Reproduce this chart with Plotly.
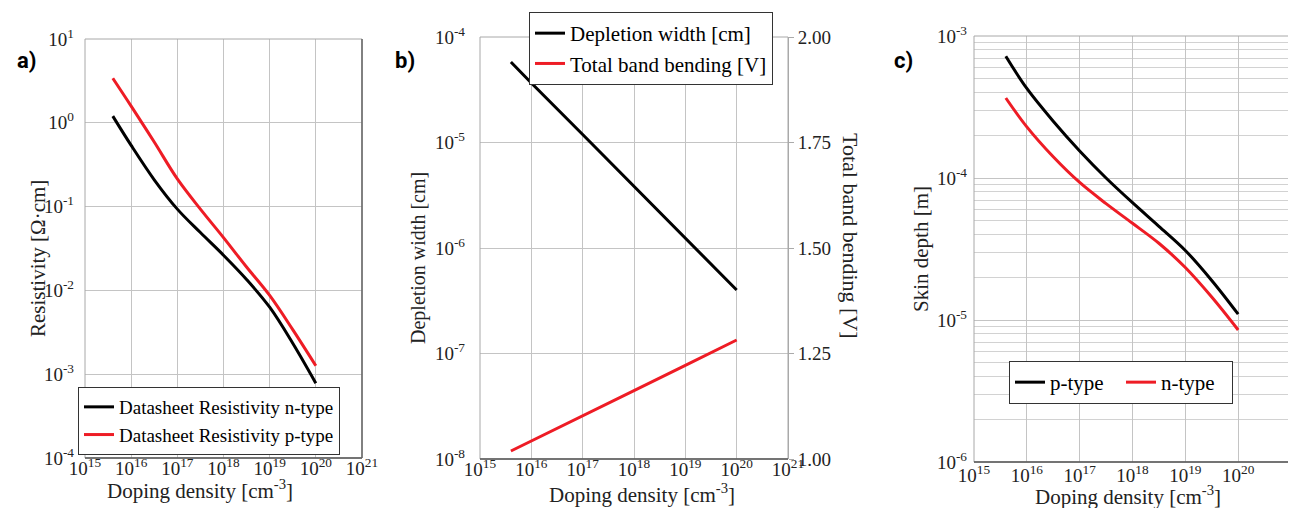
import plotly.graph_objects as go

# ---------------- data ----------------
# Panel a: resistivity vs doping density
doping_a = [4e15, 1e16, 3.16e16, 1e17, 3.16e17, 1e18, 3.16e18, 1e19, 3.16e19, 1e20]
rho_n = [1.2, 0.537, 0.209, 0.0933, 0.049, 0.0263, 0.0135, 0.0063, 0.00234, 0.00078]
rho_p = [3.4, 1.58, 0.589, 0.214, 0.0933, 0.0427, 0.019, 0.0087, 0.0034, 0.00126]

# Panel b: depletion width and total band bending
doping_b = [4e15, 1e16, 1e17, 1e18, 1e19, 1e20]
depletion_cm = [5.8e-5, 3.66e-5, 1.19e-5, 3.84e-6, 1.24e-6, 4.0e-7]
band_bending_v = [1.019, 1.043, 1.103, 1.162, 1.222, 1.282]

# Panel c: skin depth
doping_c = [4e15, 1e16, 3.16e16, 1e17, 3.16e17, 1e18, 3.16e18, 1e19, 3.16e19, 1e20]
skin_p = [7.2e-4, 4.27e-4, 2.51e-4, 1.55e-4, 1.0e-4, 6.7e-5, 4.57e-5, 3.09e-5, 1.9e-5, 1.1e-5]
skin_n = [3.66e-4, 2.29e-4, 1.41e-4, 9.3e-5, 6.6e-5, 4.8e-5, 3.47e-5, 2.34e-5, 1.45e-5, 8.5e-6]

x_exps = [15, 16, 17, 18, 19, 20, 21]
ya_exps = [1, 0, -1, -2, -3, -4]
yb_exps = [-4, -5, -6, -7, -8]
yc_exps = [-3, -4, -5, -6]
yb2_ticks = [1.00, 1.25, 1.50, 1.75, 2.00]

# ---------------- style ----------------
W, H = 1296, 508
SERIF = "Liberation Serif, Times New Roman, serif"
RED = "#ee1c25"
GRID = "#c4c4c4"
TICKFONT = dict(family=SERIF, size=19, color="#222")

def fx(px):
    return px / W

def fy(py):
    return 1 - py / H

def pow_text(e):
    return "10<sup>%d</sup>" % e

def xaxis_cfg(x0, x1, anchor, standoff):
    return dict(
        type="log", range=[15, 21], domain=[fx(x0), fx(x1)], anchor=anchor,
        tickvals=[10.0 ** e for e in x_exps], ticktext=[pow_text(e) for e in x_exps],
        showgrid=True, gridcolor=GRID, gridwidth=1, zeroline=False, automargin=False,
        showline=False, ticks="", tickfont=TICKFONT, ticklabelstandoff=standoff,
    )

def ylog_cfg(y_top, y_bot, exps, anchor, lo, hi, standoff):
    return dict(
        type="log", range=[lo, hi], domain=[fy(y_bot), fy(y_top)], anchor=anchor,
        tickvals=[10.0 ** e for e in exps], ticktext=[pow_text(e) for e in exps],
        showgrid=True, gridcolor=GRID, gridwidth=1, zeroline=False, automargin=False,
        showline=False, ticks="", tickfont=TICKFONT, ticklabelstandoff=standoff,
    )

fig = go.Figure()

# panel a
fig.add_trace(go.Scatter(x=doping_a, y=rho_n, mode="lines", name="Datasheet Resistivity n-type",
                         line=dict(color="black", width=3, shape="spline"),
                         xaxis="x", yaxis="y", legend="legend"))
fig.add_trace(go.Scatter(x=doping_a, y=rho_p, mode="lines", name="Datasheet Resistivity p-type",
                         line=dict(color=RED, width=3, shape="spline"),
                         xaxis="x", yaxis="y", legend="legend"))
# panel b
fig.add_trace(go.Scatter(x=doping_b, y=depletion_cm, mode="lines", name="Depletion width [cm]",
                         line=dict(color="black", width=3),
                         xaxis="x2", yaxis="y2", legend="legend2"))
fig.add_trace(go.Scatter(x=doping_b, y=band_bending_v, mode="lines", name="Total band bending [V]",
                         line=dict(color=RED, width=3),
                         xaxis="x2", yaxis="y3", legend="legend2"))
# panel c
fig.add_trace(go.Scatter(x=doping_c, y=skin_p, mode="lines", name="p-type",
                         line=dict(color="black", width=3, shape="spline"),
                         xaxis="x3", yaxis="y4", legend="legend3"))
fig.add_trace(go.Scatter(x=doping_c, y=skin_n, mode="lines", name="n-type",
                         line=dict(color=RED, width=3, shape="spline"),
                         xaxis="x3", yaxis="y4", legend="legend3"))

# plot-area pixel boxes
A = (77, 31, 354, 450)
B = (472, 29, 780, 451)
C = (966, 28, 1283, 454)

yc_minor = [k * 10.0 ** e for e in (-6, -5, -4) for k in range(2, 10)]
yc_cfg = ylog_cfg(C[1], C[3], yc_exps, "x3", -6, -3, 6)
yc_cfg["minor"] = dict(tickvals=yc_minor, showgrid=True, gridcolor="#d2d2d2", gridwidth=1, ticks="")

def legend_common(size):
    return dict(font=dict(family=SERIF, size=size, color="black"), bgcolor="white",
                bordercolor="#333", borderwidth=1, xanchor="left", yanchor="top",
                tracegroupgap=0)

fig.update_layout(
    width=W, height=H, margin=dict(l=0, r=0, t=0, b=0, autoexpand=False),
    paper_bgcolor="white", plot_bgcolor="white",
    font=dict(family=SERIF, color="#222"),
    xaxis=xaxis_cfg(A[0], A[2], "y", -3),
    yaxis=ylog_cfg(A[1], A[3], ya_exps, "x", -4, 1, 10),
    xaxis2=xaxis_cfg(B[0], B[2], "y2", -3),
    yaxis2=ylog_cfg(B[1], B[3], yb_exps, "x2", -8, -4, 14),
    yaxis3=dict(range=[1, 2], domain=[fy(B[3]), fy(B[1])], anchor="x2", overlaying="y2",
                side="right", tickvals=yb2_ticks, ticktext=["%.2f" % v for v in yb2_ticks],
                showgrid=False, zeroline=False, showline=True, linecolor="#aaa", linewidth=1,
                automargin=False, ticks="outside", ticklen=5, tickcolor="#aaa", tickfont=TICKFONT),
    xaxis3=xaxis_cfg(C[0], C[2], "y4", 0),
    yaxis4=yc_cfg,
    legend=dict(x=fx(70), y=fy(379), **legend_common(19)),
    legend2=dict(x=fx(521), y=fy(4), **legend_common(21)),
    legend3=dict(x=fx(1001), y=fy(353), orientation="h", entrywidth=66,
                 entrywidthmode="pixels", **legend_common(21)),
    showlegend=True,
)

# frames (drawn above; curves never touch the edges)
shapes = []
for (ax, ay) in (("x", "y"), ("x2", "y2"), ("x3", "y4")):
    shapes.append(dict(type="rect", xref=ax + " domain", yref=ay + " domain", x0=0, x1=1, y0=0, y1=1,
                       line=dict(color="#a8a8a8", width=1), layer="above"))
for (ax, ay, sides) in (("x", "y", ("bottom", "right")), ("x2", "y2", ("bottom",)),
                        ("x3", "y4", ("bottom", "right"))):
    for s in sides:
        if s == "bottom":
            shapes.append(dict(type="line", xref=ax + " domain", yref=ay + " domain", x0=0, x1=1,
                               y0=0, y1=0, line=dict(color="#555", width=1.5), layer="above"))
        else:
            shapes.append(dict(type="line", xref=ax + " domain", yref=ay + " domain", x0=1, x1=1,
                               y0=0, y1=1, line=dict(color="#666", width=1.5), layer="above"))
fig.update_layout(shapes=shapes)

# annotations: panel labels and axis titles
ann = []
LBL = dict(family="Liberation Sans Narrow, Roboto, Arial Narrow, sans-serif", size=22, color="black")
for txt, px, py in (("<b>a)</b>", 19, 52), ("<b>b)</b>", 397, 52), ("<b>c)</b>", 895, 52)):
    ann.append(dict(text=txt, x=fx(px), y=fy(py), xref="paper", yref="paper",
                    showarrow=False, font=LBL, xanchor="center", yanchor="middle"))

TITLE = dict(family=SERIF, size=21, color="#222")
xt = "Doping density [cm<sup>-3</sup>]"
for px, py in ((192, 481), (634, 485), (1120, 487)):
    ann.append(dict(text=xt, x=fx(px), y=fy(py), xref="paper", yref="paper",
                    showarrow=False, font=TITLE, xanchor="center", yanchor="middle"))
for txt, px, py, ang, sz in (("Resistivity [Ω·cm]", 30, 251, -90, 21),
                             ("Depletion width [cm]", 410, 250, -90, 20),
                             ("Skin depth [m]", 913, 241, -90, 21),
                             ("Total band bending [V]", 843, 228, 90, 22)):
    ann.append(dict(text=txt, x=fx(px), y=fy(py), xref="paper", yref="paper",
                    showarrow=False, font=dict(family=SERIF, size=sz, color="#222"),
                    textangle=ang, xanchor="center", yanchor="middle"))
fig.update_layout(annotations=ann)

fig.write_html("out.html")
